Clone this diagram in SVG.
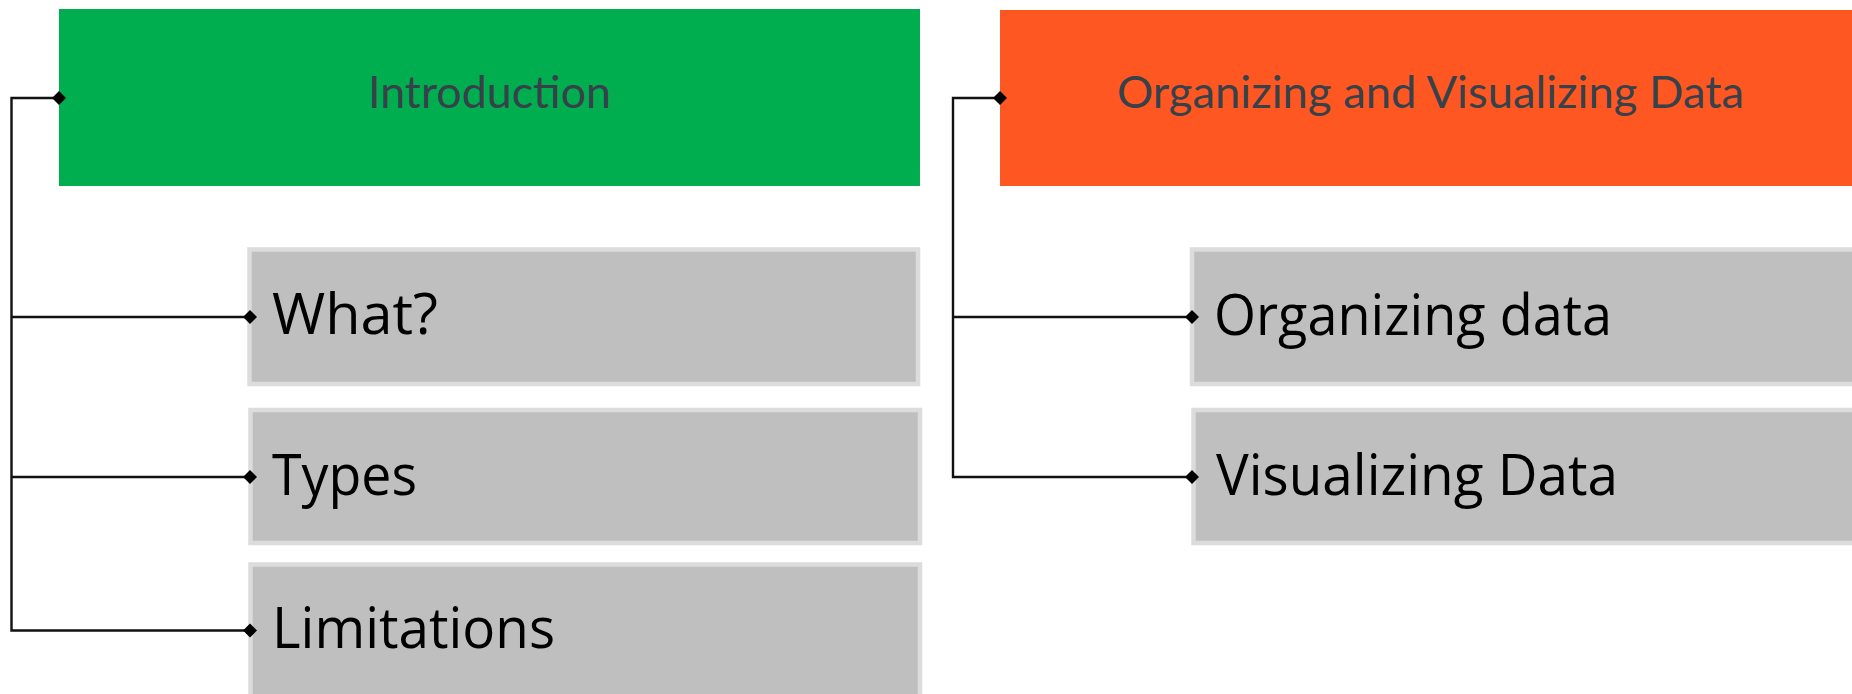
<svg xmlns="http://www.w3.org/2000/svg" width="1852" height="694" viewBox="0 0 1852 694">
<defs>
<style>
.hdr{font-family:Lato,"Open Sans","Liberation Sans",sans-serif;font-size:44px;fill:#37414a;text-anchor:start}
.box{fill:#bfbfbf;stroke:#dcdcdc;stroke-width:4.5}
.lbl{font-family:"Open Sans","Liberation Sans",sans-serif;font-size:57px;fill:#000}
.conn{fill:none;stroke:#111;stroke-width:2.4}
.dia{fill:#000}
</style>
</defs>
<rect width="1852" height="694" fill="#fff"/>
<g id="node-introduction">
<rect x="59" y="9" width="861" height="177" fill="#00ae50"/>
<text class="hdr" x="368" y="108" textLength="243" lengthAdjust="spacingAndGlyphs">Introduction</text>
</g>
<g id="node-organizing-visualizing">
<rect x="1000" y="10" width="860" height="176" fill="#ff5722"/>
<text class="hdr" x="1117" y="108" textLength="627" lengthAdjust="spacingAndGlyphs">Organizing and Visualizing Data</text>
</g>
<g id="node-what">
<rect class="box" x="249.5" y="249.5" width="668.5" height="134.5"/>
<text class="lbl" x="272" y="334" textLength="166" lengthAdjust="spacingAndGlyphs">What?</text>
</g>
<g id="node-types">
<rect class="box" x="250.5" y="410" width="669.5" height="133"/>
<text class="lbl" x="272" y="495" textLength="145" lengthAdjust="spacingAndGlyphs">Types</text>
</g>
<g id="node-limitations">
<rect class="box" x="250.5" y="564.5" width="669.5" height="140"/>
<text class="lbl" x="272" y="648" textLength="283" lengthAdjust="spacingAndGlyphs">Limitations</text>
</g>
<g id="node-organizing-data">
<rect class="box" x="1192" y="249.5" width="670" height="134.5"/>
<text class="lbl" x="1214" y="335" textLength="398" lengthAdjust="spacingAndGlyphs">Organizing data</text>
</g>
<g id="node-visualizing-data">
<rect class="box" x="1193.5" y="410" width="670" height="133"/>
<text class="lbl" x="1216" y="495" textLength="402" lengthAdjust="spacingAndGlyphs">Visualizing Data</text>
</g>
<g id="connectors">
<path class="conn" d="M59 98 H11.5 V630.5 H250"/>
<path class="conn" d="M11.5 317 H250"/>
<path class="conn" d="M11.5 477 H250"/>
<path class="conn" d="M1000 98 H953 V477 H1192"/>
<path class="conn" d="M953 317 H1192"/>
<path class="dia" d="M59 91 L66 98 L59 105 L52 98 Z"/>
<path class="dia" d="M1000 91 L1007 98 L1000 105 L993 98 Z"/>
<path class="dia" d="M250 310 L257 317 L250 324 L243 317 Z"/>
<path class="dia" d="M250 470 L257 477 L250 484 L243 477 Z"/>
<path class="dia" d="M250 623.5 L257 630.5 L250 637.5 L243 630.5 Z"/>
<path class="dia" d="M1192 310 L1199 317 L1192 324 L1185 317 Z"/>
<path class="dia" d="M1192 470 L1199 477 L1192 484 L1185 477 Z"/>
</g>
</svg>
